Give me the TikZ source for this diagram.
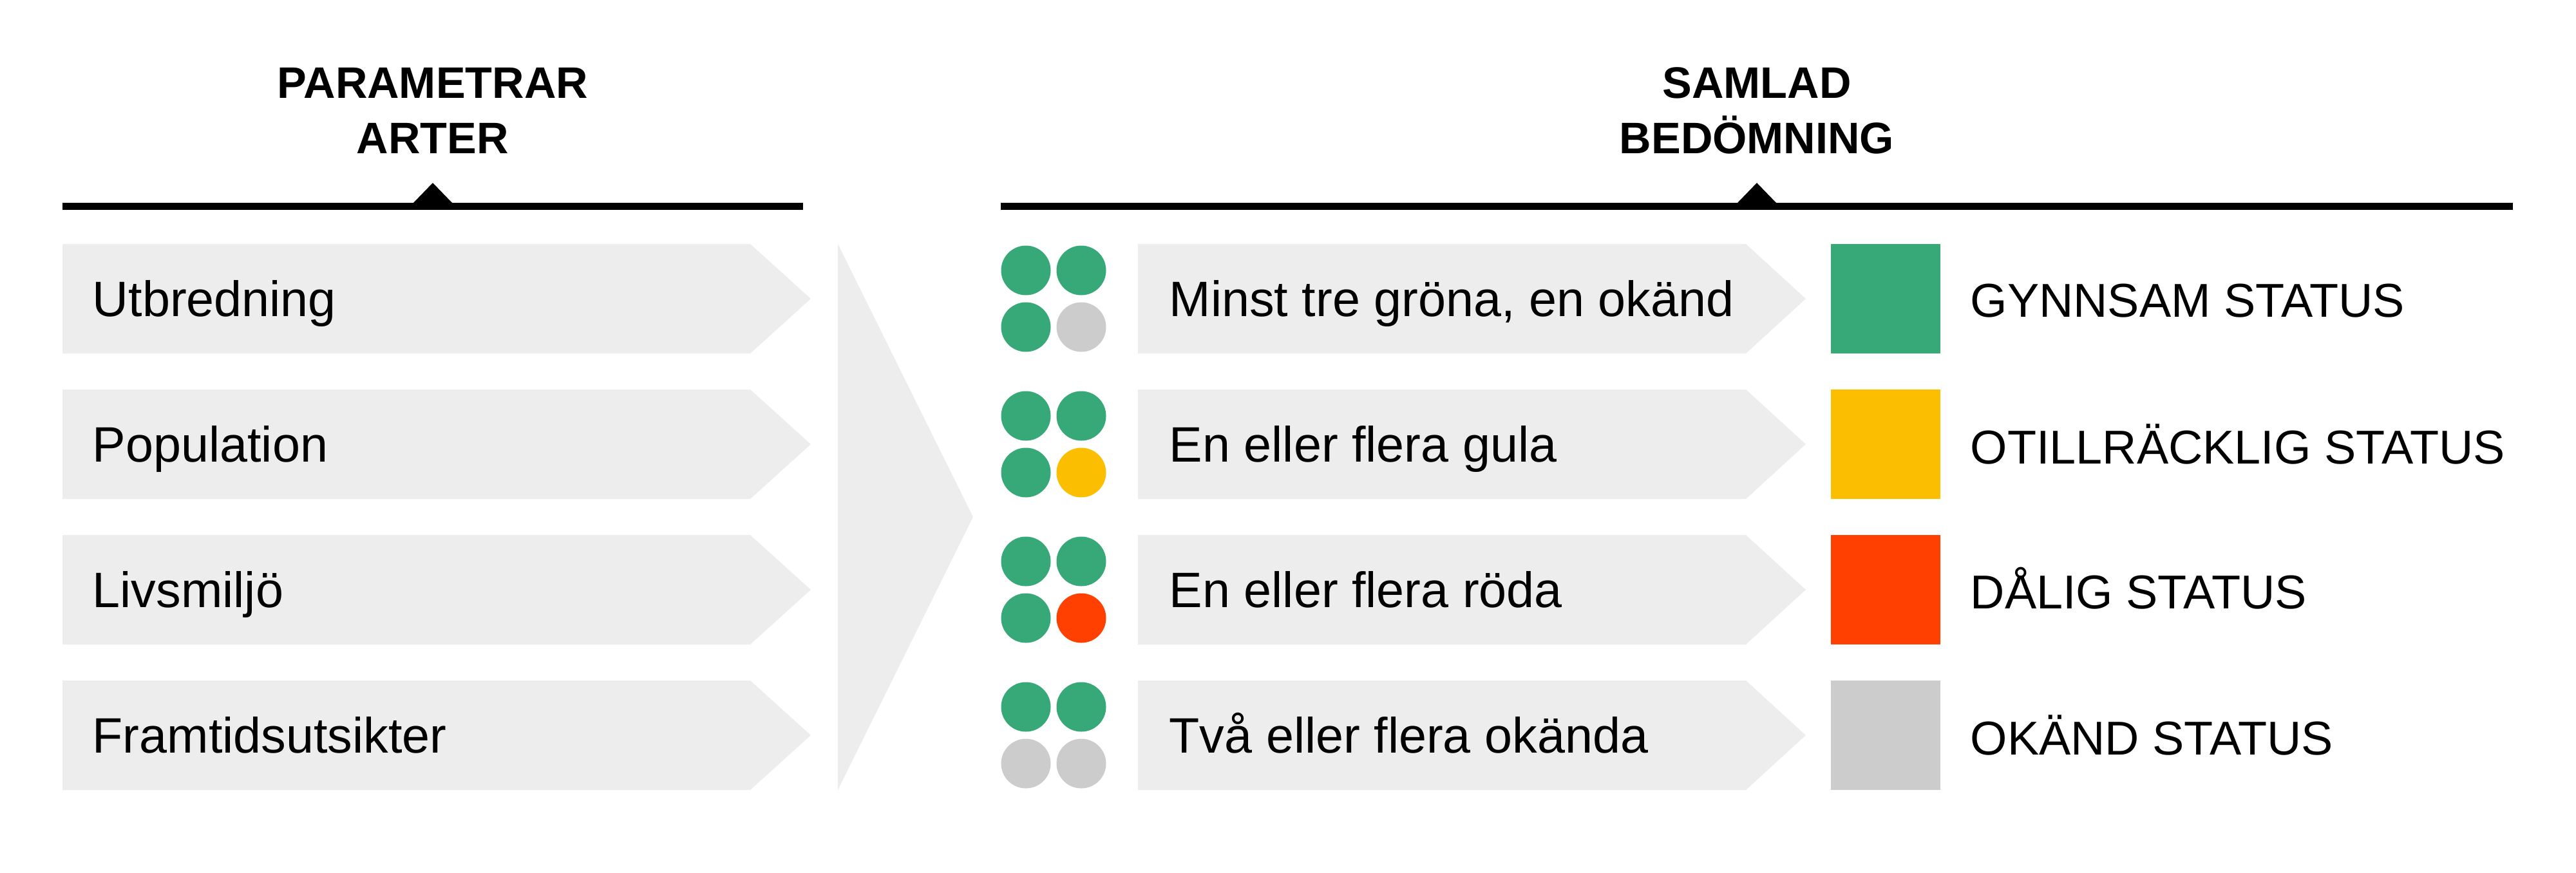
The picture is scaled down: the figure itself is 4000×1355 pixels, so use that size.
\documentclass[tikz,border=0pt]{standalone}
\usepackage{fontspec}
\setmainfont{Liberation Sans}
\definecolor{gron}{HTML}{37A877}
\definecolor{gul}{HTML}{FCBE00}
\definecolor{rod}{HTML}{FF4000}
\definecolor{okand}{HTML}{CCCCCC}
\definecolor{pil}{HTML}{EDEDED}
\begin{document}
\begin{tikzpicture}[x=0.1mm, y=-0.1mm,
    txt/.style={anchor=base west, inner sep=0pt, font=\fontsize{22}{26}\selectfont},
    stat/.style={anchor=base west, inner sep=0pt, font=\fontsize{21}{25}\selectfont},
    head/.style={anchor=base, inner sep=0pt, font=\bfseries\fontsize{19.5}{24}\selectfont},
    dot/.style={circle, inner sep=0pt, minimum size=7.7mm}]
\useasboundingbox (0,0) rectangle (4000,1355);

% rubriker
\node[head] (P1) at (672,152) {PARAMETRAR};
\node[head] (P2) at (672,238) {ARTER};
\node[head] (S1) at (2728,152) {SAMLAD};
\node[head] (S2) at (2728,238) {BEDÖMNING};
\fill (97,315) rectangle (1247,326);
\fill (642,315) -- (672,284) -- (702,315) -- cycle;
\fill (1554,315) rectangle (3902,326);
\fill (2698,315) -- (2728,284) -- (2758,315) -- cycle;

% parametrar
\fill[pil] (97,379) -- (1165,379) -- (1259,464) -- (1165,549) -- (97,549) -- cycle;
\fill[pil] (97,605) -- (1165,605) -- (1259,690) -- (1165,775) -- (97,775) -- cycle;
\fill[pil] (97,831) -- (1165,831) -- (1259,916) -- (1165,1001) -- (97,1001) -- cycle;
\fill[pil] (97,1057) -- (1165,1057) -- (1259,1142) -- (1165,1227) -- (97,1227) -- cycle;
\node[txt] (U) at (143,491) {Utbredning};
\node[txt] (Po) at (143,717) {Population};
\node[txt] (Li) at (143,943) {Livsmiljö};
\node[txt] (Fr) at (143,1169) {Framtidsutsikter};

% stor pil
\fill[pil] (1301,379) -- (1511,803) -- (1301,1227) -- cycle;

% prickar
\node[dot, fill=gron] (a1) at (1593,420) {};
\node[dot, fill=gron] (a2) at (1679,420) {};
\node[dot, fill=gron] (a3) at (1593,508) {};
\node[dot, fill=okand] (a4) at (1679,508) {};
\node[dot, fill=gron] (b1) at (1593,646) {};
\node[dot, fill=gron] (b2) at (1679,646) {};
\node[dot, fill=gron] (b3) at (1593,734) {};
\node[dot, fill=gul] (b4) at (1679,734) {};
\node[dot, fill=gron] (c1) at (1593,872) {};
\node[dot, fill=gron] (c2) at (1679,872) {};
\node[dot, fill=gron] (c3) at (1593,960) {};
\node[dot, fill=rod] (c4) at (1679,960) {};
\node[dot, fill=gron] (d1) at (1593,1098) {};
\node[dot, fill=gron] (d2) at (1679,1098) {};
\node[dot, fill=okand] (d3) at (1593,1186) {};
\node[dot, fill=okand] (d4) at (1679,1186) {};

% villkor
\fill[pil] (1767,379) -- (2711,379) -- (2804,464) -- (2711,549) -- (1767,549) -- cycle;
\fill[pil] (1767,605) -- (2711,605) -- (2804,690) -- (2711,775) -- (1767,775) -- cycle;
\fill[pil] (1767,831) -- (2711,831) -- (2804,916) -- (2711,1001) -- (1767,1001) -- cycle;
\fill[pil] (1767,1057) -- (2711,1057) -- (2804,1142) -- (2711,1227) -- (1767,1227) -- cycle;
\node[txt] (V1) at (1815,491) {Minst tre gröna, en okänd};
\node[txt] (V2) at (1815,717) {En eller flera gula};
\node[txt] (V3) at (1815,943) {En eller flera röda};
\node[txt] (V4) at (1815,1169) {Två eller flera okända};

% status
\fill[gron] (2843,379) rectangle (3013,549);
\fill[gul] (2843,605) rectangle (3013,775);
\fill[rod] (2843,831) rectangle (3013,1001);
\fill[okand] (2843,1057) rectangle (3013,1227);
\node[stat] (G) at (3059,492) {GYNNSAM STATUS};
\node[stat] (O) at (3059,720) {OTILLRÄCKLIG STATUS};
\node[stat] (D) at (3059,945) {DÅLIG STATUS};
\node[stat] (K) at (3059,1172) {OKÄND STATUS};
\end{tikzpicture}
\end{document}
